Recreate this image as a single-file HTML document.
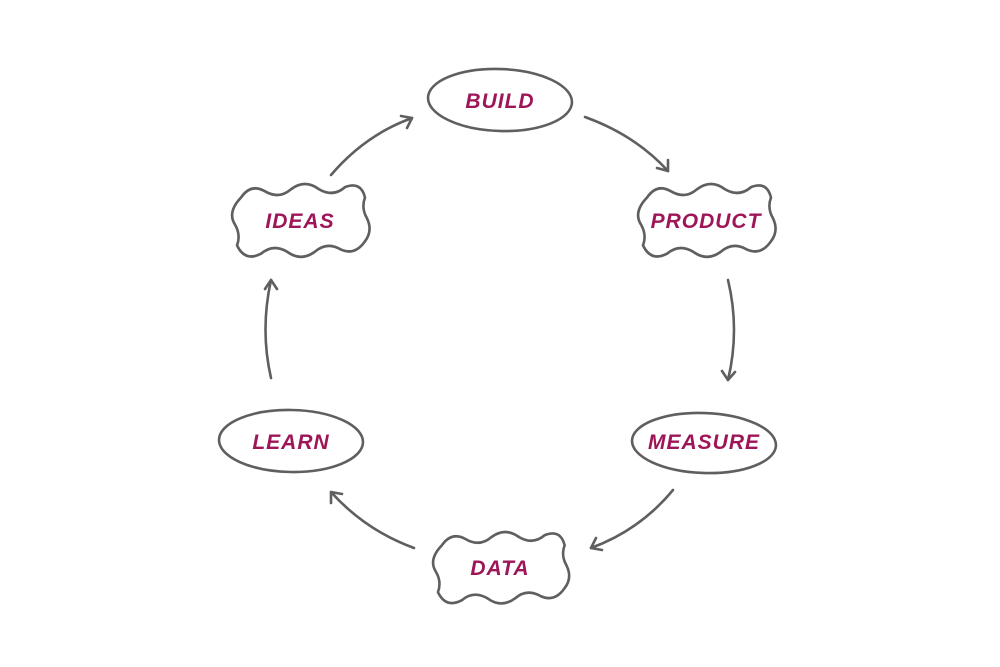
<!DOCTYPE html>
<html><head><meta charset="utf-8"><style>
html,body{margin:0;padding:0;background:#fff;width:1000px;height:667px;overflow:hidden}
text{font-family:"Liberation Sans",sans-serif;font-style:italic;font-weight:bold;font-size:21px;fill:#9e1658;letter-spacing:1px;text-anchor:middle}
.s{fill:#fff;stroke:#5f5f5f;stroke-width:2.6;stroke-linecap:round;stroke-linejoin:round}
.a{fill:none;stroke:#5f5f5f;stroke-width:2.6;stroke-linecap:round;stroke-linejoin:round}
</style></head><body>
<svg width="1000" height="667" viewBox="0 0 1000 667">
<defs>
<path id="cl" d="M12,14 q10,-14 24,-6 q14,8 26,-2 q14,-10 28,0 q14,8 26,-2 q16,-6 20,10 q-4,10 2,20 q6,12 -2,22 q-10,14 -24,8 q-14,-8 -26,2 q-14,10 -28,0 q-14,-8 -26,2 q-16,8 -24,-8 q4,-10 -2,-20 q-8,-12 6,-26 z"/>
</defs>
<ellipse class="s" cx="500" cy="100" rx="72" ry="31" transform="rotate(2 500 100)"/>
<ellipse class="s" cx="704" cy="443" rx="72" ry="30" transform="rotate(2 704 443)"/>
<ellipse class="s" cx="291" cy="441" rx="72" ry="31" transform="rotate(1 291 441)"/>
<use href="#cl" class="s" transform="translate(229,183) scale(1.0,1.04)"/>
<use href="#cl" class="s" transform="translate(635,183) scale(1.0,1.04)"/>
<use href="#cl" class="s" transform="translate(430,531) scale(0.99,1.02)"/>
<text x="500" y="108">BUILD</text>
<text x="706" y="228">PRODUCT</text>
<text x="704" y="449">MEASURE</text>
<text x="500" y="575">DATA</text>
<text x="291" y="449">LEARN</text>
<text x="300" y="228">IDEAS</text>
<path class="a" d="M331,175 Q365,135 412,118"/>
<path class="a" d="M401,116 L412,118 L407,128"/>
<path class="a" d="M585,117 Q635,135 668,171"/>
<path class="a" d="M668,160 L668,171 L657,168"/>
<path class="a" d="M728,280 Q740,330 728,380"/>
<path class="a" d="M722,371 L728,380 L735,372"/>
<path class="a" d="M673,490 Q640,530 591,548"/>
<path class="a" d="M596,538 L591,548 L602,550"/>
<path class="a" d="M414,548 Q365,530 331,492"/>
<path class="a" d="M331,503 L331,492 L342,494"/>
<path class="a" d="M271,378 Q260,330 271,280"/>
<path class="a" d="M265,289 L271,280 L277,289"/>
</svg>
</body></html>
